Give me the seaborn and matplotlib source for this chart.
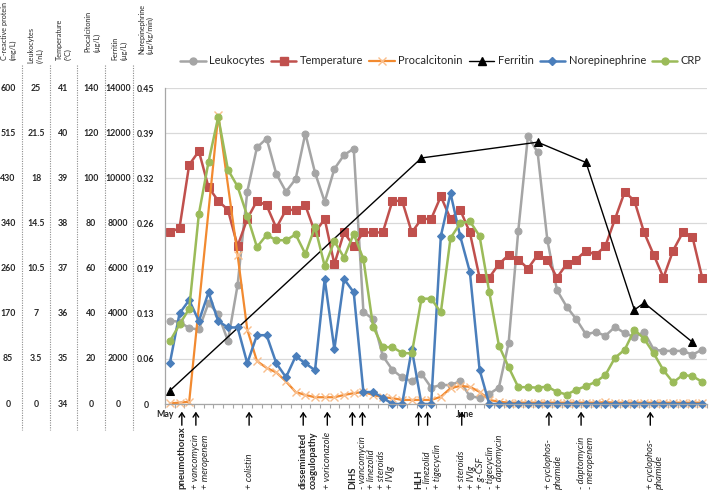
#!/usr/bin/env python3
"""
Clinical course chart: lab values, vitals and treatment events
"""

import numpy as np
import pandas as pd
import matplotlib
matplotlib.use('Agg')
import matplotlib.pyplot as plt
import matplotlib.transforms as mtransforms
from matplotlib.lines import Line2D
import seaborn as sns

nan = np.nan

# day index 0 = 1 May, 31 = 1 June
days = list(range(56))

leukocytes = [6.6, 6.5, 6.0, 5.9, 8.0, 7.1, 5.0, 9.4, 16.8, 20.3,
              21.0, 18.2, 16.8, 17.8, 21.4, 18.3, 16.0, 18.6, 19.7, 20.2,
              7.3, 6.7, 3.8, 2.7, 2.1, 1.8, 2.4, 1.3, 1.5, 1.5,
              1.8, 0.6, 0.5, 0.8, 1.3, 4.8, 13.7, 21.2, 19.9, 13.0,
              9.0, 7.7, 6.7, 5.5, 5.7, 5.4, 6.1, 5.6, 5.3, 5.7,
              4.3, 4.2, 4.2, 4.2, 3.9, 4.3]

temperature = [37.8, 37.9, 39.3, 39.6, 38.8, 38.5, 38.3, 37.5, 38.1, 38.5,
               38.4, 37.9, 38.3, 38.3, 38.4, 37.8, 38.1, 37.1, 37.8, 37.5,
               37.8, 37.8, 37.8, 38.5, 38.5, 37.8, 38.1, 38.1, 38.6, 38.1,
               38.3, 37.8, 36.8, 36.8, 37.1, 37.3, 37.2, 37.0, 37.3, 37.2,
               36.8, 37.1, 37.2, 37.4, 37.3, 37.5, 38.1, 38.7, 38.5, 37.8,
               37.3, 36.8, 37.4, 37.8, 37.7, 36.8]

procalcitonin = [0.3, 0.6, 1.0, nan, nan, 128, nan, 66, 33, 19,
                 16, 14, 10, 5.3, 4.0, 3.0, 3.0, 3.0, 4.0, 4.8,
                 5.3, 4.0, 3.0, 2.6, 1.8, 1.8, 1.8, 1.8, 3.2, 7.0,
                 8.0, 7.6, 5.4, 1.8, 1.0, 0.6, 0.6, 0.6, 0.6, 0.6,
                 0.6, 0.6, 0.6, 0.6, 0.6, 0.8, 0.6, 0.6, 0.6, 0.6,
                 0.6, 0.6, 0.6, 0.6, 0.6, 0.6]

ferritin_days = [0, 26, 38, 43, 48, 49, 54]
ferritin = [590, 10900, 11600, 10700, 4170, 4480, 2740]

norepinephrine = [0.058, 0.129, 0.148, 0.118, 0.159, 0.118, 0.109, 0.109, 0.058, 0.098,
                  0.098, 0.058, 0.038, 0.068, 0.058, 0.048, 0.178, 0.078, 0.178, 0.159,
                  0.017, 0.017, 0.009, 0.0, 0.0, 0.078, 0.0, 0.0, 0.239, 0.300,
                  0.239, 0.188, 0.049, 0.0, 0.0, 0.0, 0.0, 0.0, 0.0, 0.0,
                  0.0, 0.0, 0.0, 0.0, 0.0, 0.0, 0.0, 0.0, 0.0, 0.0,
                  0.0, 0.0, 0.0, 0.0, 0.0, 0.0]

crp = [119, 151, 181, 361, 460, 545, 445, 413, 357, 298,
       321, 311, 311, 322, 285, 336, 262, 309, 278, 323,
       275, 147, 108, 108, 97, 96, 200, 200, 174, 315,
       343, 347, 319, 213, 111, 70, 32, 32, 31, 33,
       23, 18, 27, 34, 42, 55, 88, 103, 141, 124,
       96, 64, 41, 55, 53, 42]

# left-hand scale columns (8 grid levels)
crp_ticks = ['0', '85', '170', '260', '340', '430', '515', '600']
leuko_ticks = ['0', '3.5', '7', '10.5', '14.5', '18', '21.5', '25']
temp_ticks = ['34', '35', '36', '37', '38', '39', '40', '41']
pct_ticks = ['0', '20', '40', '60', '80', '100', '120', '140']
ferritin_ticks = ['0', '2000', '4000', '6000', '8000', '10000', '12000', '14000']
norepi_ticks = ['0', '0.06', '0.13', '0.19', '0.26', '0.32', '0.39', '0.45']

headers = ['C-reactive protein\n(mg/L)', 'Leukocytes\n(/nL)', 'Temperature\n(°C)',
           'Procalcitonin\n(µg/L)', 'Ferritin\n(µg/L)', 'Norepinephrine\n(µg/kg/min)']

# treatment / event annotations below the axis
event_days = [1.24, 2.69, 8.19, 13.78, 16.27, 18.86, 19.9, 25.7, 26.63, 30.16, 39.17, 42.49, 49.64]
event_texts = [['pneumothorax'], ['+ vancomycin', '+ meropenem'], ['+ colistin'],
               ['disseminated', 'coagulopathy'], ['+ voriconazole'], ['DIHS'],
               ['- vancomycin', '+ linezolid', '+ steroids', '+ IVIg'], ['HLH'],
               ['- linezolid', '+ tigecyclin'],
               ['+ steroids', '+ IVIg', '+ g-CSF', '- tigecyclin', '+ daptomycin'],
               ['+ cyclophos-', 'phamide'], ['- daptomycin', '- meropenem'],
               ['+ cyclophos-', 'phamide']]
bold_events = {'pneumothorax', 'disseminated', 'DIHS', 'HLH'}

sns.set_style('white')
plt.rcParams['font.family'] = ['Lato', 'DejaVu Sans']

W, H = 709, 490
fig = plt.figure(figsize=(W / 100, H / 100), dpi=100)
ax = fig.add_axes([165 / W, 1 - 404 / H, (707 - 165) / W, (404 - 88) / H])

# (label, x, values, offset, units per grid step, style)
series = [
    ('Leukocytes', days, leukocytes, 0, 25 / 7,
     dict(color='#A5A5A5', marker='o', markersize=5, markerfacecolor='#A5A5A5',
          markeredgecolor='#A5A5A5', linewidth=1.8)),
    ('Temperature', days, temperature, 34, 1,
     dict(color='#C0504D', marker='s', markersize=5.4, markerfacecolor='#C0504D',
          markeredgecolor='#C0504D', linewidth=1.8)),
    ('Procalcitonin', days, procalcitonin, 0, 20,
     dict(color='#F28A30', marker='x', markersize=5.5, markerfacecolor='none',
          markeredgecolor='#F9BE8C', markeredgewidth=1.0, linewidth=1.6)),
    ('Ferritin', ferritin_days, ferritin, 0, 2000,
     dict(color='black', marker='^', markersize=5.5, markerfacecolor='black',
          markeredgecolor='black', linewidth=1.0)),
    ('Norepinephrine', days, norepinephrine, 0, 0.45 / 7,
     dict(color='#4A7EBB', marker='D', markersize=3.8, markerfacecolor='#4A7EBB',
          markeredgecolor='#4A7EBB', linewidth=1.8)),
    ('CRP', days, crp, 0, 600 / 7,
     dict(color='#9BBB59', marker='o', markersize=5, markerfacecolor='#9BBB59',
          markeredgecolor='#9BBB59', linewidth=1.8)),
]

handles = []
for label, x, vals, offset, step, style in series:
    df = pd.DataFrame({'day': x, 'value': vals}).dropna()
    df['level'] = (df['value'] - offset) / step
    sns.lineplot(data=df, x='day', y='level', ax=ax, estimator=None,
                 legend=False, clip_on=False, **style)
    handles.append(Line2D([], [], **style))

ax.set_xlim(-0.5, 55.5)
ax.set_ylim(0, 7)
ax.set_xlabel('')
ax.set_ylabel('')

# y axis = norepinephrine scale
ax.set_yticks(range(8))
ax.set_yticklabels(norepi_ticks, fontsize=6.3, fontweight='bold')
ax.tick_params(axis='y', length=0, pad=13.7)
for lbl in ax.get_yticklabels():
    lbl.set_ha('center')

ax.set_xticks([-0.5, 30.5])
ax.set_xticklabels(['May', 'June'], fontsize=6.3, fontweight='bold')
ax.set_xticks(np.arange(-0.5, 56, 1), minor=True)
ax.tick_params(axis='x', which='both', bottom=True, length=3, width=0.8,
               color='#A6A6A6', pad=1)

ax.grid(axis='y', color='#D9D9D9', linewidth=0.9)
ax.set_axisbelow(True)
for side in ['top', 'right']:
    ax.spines[side].set_visible(False)
for side in ['left', 'bottom']:
    ax.spines[side].set_color('#A6A6A6')
    ax.spines[side].set_linewidth(0.9)

# other scale columns
blend = mtransforms.blended_transform_factory(fig.transFigure, ax.transData)
col_x = [8, 36, 63, 91, 118]
for cx, ticks in zip(col_x, [crp_ticks, leuko_ticks, temp_ticks, pct_ticks, ferritin_ticks]):
    for lvl, t in enumerate(ticks):
        fig.text(cx / W, lvl, t, transform=blend, ha='center', va='center',
                 fontsize=6.3, fontweight='bold')

# dotted separators
for sx in [22, 50, 77, 105, 133]:
    fig.add_artist(Line2D([sx / W, sx / W], [1 - 65 / H, 1 - 430 / H],
                          transform=fig.transFigure, color='#8C8C8C',
                          linestyle=(0, (1, 1.2)), linewidth=0.8))

# rotated column headers
head_x = [9, 35.5, 64, 92.5, 119.5, 146]
head_bottom = [60, 63, 60, 52, 60, 54]
for hx, hb, txt in zip(head_x, head_bottom, headers):
    fig.text(hx / W, 1 - hb / H, txt, rotation=90, ha='center', va='bottom',
             multialignment='left', fontsize=5.2, linespacing=1.3)

# event arrows and texts
for d, lines in zip(event_days, event_texts):
    ax.annotate('', xy=(d, -0.17), xytext=(d, -0.47), xycoords='data',
                annotation_clip=False,
                arrowprops=dict(arrowstyle='->,head_width=0.2,head_length=0.3',
                                color='black', lw=1.0, shrinkA=0, shrinkB=0))
    for i, line in enumerate(lines):
        bold = lines[0] in bold_events
        ax.annotate(line, xy=(d, 1.5 / H), xycoords=('data', 'figure fraction'),
                    xytext=(i * 6.8, 0), textcoords='offset points',
                    rotation=90, ha='center', va='bottom', fontsize=6.8,
                    fontweight='bold' if bold else 'normal',
                    fontstyle='normal' if bold else 'italic',
                    annotation_clip=False)

fig.legend(handles, [s[0] for s in series], ncol=6, loc='center',
           bbox_to_anchor=(441 / W, 1 - 61 / H), frameon=False, fontsize=8,
           handlelength=2.3, handletextpad=0.3, columnspacing=0.55)

fig.savefig('out.png', dpi=100)
